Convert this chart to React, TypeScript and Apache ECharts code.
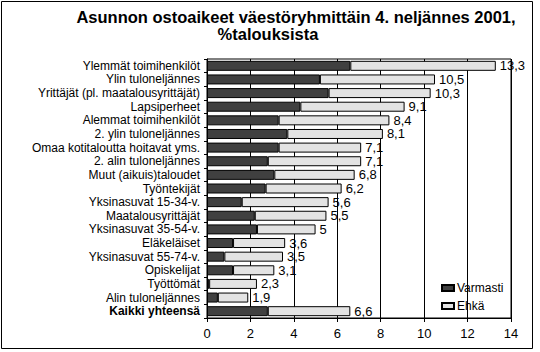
import React, { useEffect, useRef } from "react";
import * as echarts from "echarts";

const categories = [
  "Ylemmät toimihenkilöt",
  "Ylin tuloneljännes",
  "Yrittäjät (pl. maatalousyrittäjät)",
  "Lapsiperheet",
  "Alemmat toimihenkilöt",
  "2. ylin tuloneljännes",
  "Omaa kotitaloutta hoitavat yms.",
  "2. alin tuloneljännes",
  "Muut (aikuis)taloudet",
  "Työntekijät",
  "Yksinasuvat 15-34-v.",
  "Maatalousyrittäjät",
  "Yksinasuvat 35-54-v.",
  "Eläkeläiset",
  "Yksinasuvat 55-74-v.",
  "Opiskelijat",
  "Työttömät",
  "Alin tuloneljännes",
  "Kaikki yhteensä",
];

const varmasti = [6.6, 5.2, 5.6, 4.3, 3.3, 3.7, 3.3, 2.8, 3.1, 2.7, 1.6, 2.2, 2.3, 1.2, 0.8, 1.2, 0.1, 0.5, 2.8];
const totals = [13.3, 10.5, 10.3, 9.1, 8.4, 8.1, 7.1, 7.1, 6.8, 6.2, 5.6, 5.5, 5, 3.6, 3.5, 3.1, 2.3, 1.9, 6.6];
const ehka = totals.map((t, i) => Math.round((t - varmasti[i]) * 10) / 10);

const titleLine1 = "Asunnon ostoaikeet väestöryhmittäin 4. neljännes 2001,";
const titleLine2 = "%talouksista";

const FONT = "'Liberation Sans', Arial, sans-serif";

export default function App() {
  const ref = useRef<HTMLDivElement>(null);
  useEffect(() => {
    if (!ref.current) return;
    const chart = echarts.init(ref.current, null, { renderer: "svg" });
    chart.setOption({
      animation: false,
      backgroundColor: "#fff",
      textStyle: { fontFamily: FONT, color: "#000" },
      graphic: [
        {
          type: "rect",
          shape: { x: 1.5, y: 1.5, width: 531, height: 347 },
          style: { fill: "none", stroke: "#000", lineWidth: 1 },
          silent: true,
        },
        {
          type: "text",
          x: 296,
          y: 17,
          style: {
            text: titleLine1,
            font: "bold 16.5px " + FONT,
            fill: "#000",
            align: "center",
            verticalAlign: "middle",
          },
        },
        {
          type: "text",
          x: 268,
          y: 34,
          style: {
            text: titleLine2,
            font: "bold 16.5px " + FONT,
            fill: "#000",
            align: "center",
            verticalAlign: "middle",
          },
        },
      ],
      legend: {
        orient: "vertical",
        left: 436,
        top: 277,
        itemWidth: 12,
        itemHeight: 6,
        itemGap: 6,
        icon: "rect",
        textStyle: { fontSize: 12, color: "#000", fontFamily: FONT, padding: [0, 0, 0, -2] },
        data: ["Varmasti", "Ehkä"],
      },
      grid: {
        left: 207,
        right: 29,
        top: 59,
        bottom: 34,
        show: true,
        borderColor: "#000",
        borderWidth: 1,
        backgroundColor: "transparent",
      },
      xAxis: {
        type: "value",
        min: 0,
        max: 14,
        interval: 2,
        axisLine: { show: true, lineStyle: { color: "#000" } },
        axisTick: { show: true, length: 4, lineStyle: { color: "#000" } },
        splitLine: { show: true, lineStyle: { color: "#000", width: 1 } },
        axisLabel: { fontSize: 13, color: "#000", fontFamily: FONT, margin: 9 },
      },
      yAxis: {
        type: "category",
        inverse: true,
        data: categories,
        axisLine: { show: true, lineStyle: { color: "#000" } },
        axisTick: { show: true, length: 3, interval: 0, lineStyle: { color: "#000" } },
        axisLabel: {
          interval: 0,
          fontSize: 12,
          color: "#000",
          fontFamily: FONT,
          margin: 7,
          formatter: (v: string) => (v === "Kaikki yhteensä" ? "{b|" + v + "}" : v),
          rich: { b: { fontWeight: "bold", fontSize: 12, fontFamily: FONT, color: "#000" } },
        },
      },
      series: [
        {
          name: "Varmasti",
          type: "bar",
          stack: "s",
          barWidth: 10,
          data: varmasti,
          itemStyle: { color: "#404040", borderColor: "#000", borderWidth: 1 },
        },
        {
          name: "Ehkä",
          type: "bar",
          stack: "s",
          barWidth: 10,
          data: ehka,
          itemStyle: { color: "#e3e3e3", borderColor: "#000", borderWidth: 1 },
          label: {
            show: true,
            position: "right",
            distance: 4,
            fontSize: 13,
            color: "#000",
            fontFamily: FONT,
            formatter: (p: any) => String(totals[p.dataIndex]).replace(".", ","),
          },
        },
      ],
    });
    return () => chart.dispose();
  }, []);
  return <div ref={ref} style={{ width: 540, height: 352, position: "absolute", left: 0, top: 0 }} />;
}
